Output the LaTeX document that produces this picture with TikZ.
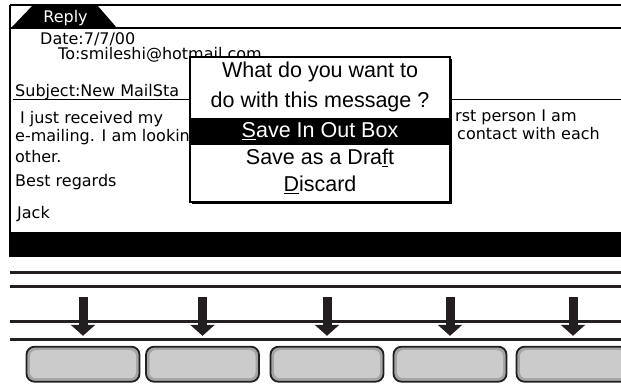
\documentclass[tikz,border=0pt]{standalone}
\usepackage{fontspec}
\setmainfont{DejaVu Sans}
\newfontfamily\dialogfont{Liberation Sans}
\usetikzlibrary{arrows.meta,shadows}
\definecolor{inkgray}{HTML}{231F20}
\definecolor{keyface}{HTML}{CBCBCB}
\definecolor{keyrim}{HTML}{A4A4A4}
\begin{document}
\begin{tikzpicture}
[x=1pt,y=-1pt,
  screentext/.style={anchor=base west,inner sep=0pt,font=\fontsize{16}{18}\selectfont},
  dialogtext/.style={anchor=base,inner sep=0pt,font=\dialogfont\fontsize{21.5}{24}\selectfont},
  dialogdecorate/.style={shape=rectangle,draw,line width=1.4pt,fill=white,minimum width=260pt,minimum height=145pt,
    drop shadow={shadow xshift=1.6pt,shadow yshift=-1.6pt,fill=black,opacity=1}},
  rowdecorate/.style={shape=rectangle,fill=black,text=white,minimum width=258pt,minimum height=27pt,inner sep=0pt,
    font=\dialogfont\fontsize{21.5}{24}\selectfont},
  barline/.style={line width=3.3pt,inkgray},
  keydecorate/.style={shape=rectangle,rounded corners=8pt,minimum width=113pt,minimum height=35pt,
    draw=inkgray,line width=1.8pt,fill=keyrim},
  keyfacedecorate/.style={shape=rectangle,rounded corners=6pt,minimum width=106pt,minimum height=28pt,fill=keyface},
  arrowdecorate/.style={-{Triangle[width=24pt,length=11pt]},line width=9pt,inkgray,shorten >=10pt}]
\useasboundingbox (0,0) rectangle (621,383);
\clip (0,0) rectangle (621,383);
%%% screen frame
\draw[line width=2pt] (10,5) -- (621,5);
\draw[line width=1.5pt] (10,5) -- (10,232);
\draw[line width=1.5pt] (10,28) -- (621,28);
\draw[line width=1pt] (13,99.5) -- (621,99.5);
% tab
\fill (33,5) -- (97,5) -- (117,28) -- (11,28) -- cycle;
\node (tab) at (65.5,22) [screentext,anchor=base,text=white] {Reply};
% message
\node (date) at (40,44) [screentext] {Date:7/7/00};
\node (to) at (58,59) [screentext] {To:smileshi@hotmail.com};
\node (subject) at (15,96) [screentext] {Subject:New MailSta};
\node (body1) at (20,123) [screentext] {I just received my};
\node (body2) at (15,141) [screentext] {e-mailing. I am lookin};
\node (body3) at (15,162) [screentext] {other.};
\node (body4) at (15,186) [screentext] {Best regards};
\node (sign) at (17,218) [screentext] {Jack};
\node (body1r) at (455,121) [screentext] {rst person I am};
\node (body2r) at (457,139) [screentext] {contact with each};
% black bar
\fill (9.25,232) rectangle (621,257);
%%% dialog
\node (dialog) at (320,129.5) [dialogdecorate] {};
\node (ask1) at (320,77.5) [dialogtext] {What do you want to};
\node (ask2) at (320,107.5) [dialogtext] {do with this message ?};
\node (outbox) at (320,131.5) [rowdecorate] {\underline{S}ave In Out Box};
\node (draft) at (320,164.5) [dialogtext] {Save as a Dra\underline{f}t};
\node (discard) at (320,191.5) [dialogtext] {\underline{D}iscard};
%%% keys and arrows
\foreach \y in {272.5,286.5,321.5,339.5}
  \draw[barline] (10,\y) -- (621,\y);
\foreach \x [count=\i] in {83,202.5,327,450,573} {
  \node (key\i) at (\x,364.2) [keydecorate] {};
  \node (face\i) at (key\i) [keyfacedecorate] {};
  \coordinate (drop\i) at (\x,297);
  \path (drop\i) edge[arrowdecorate] (key\i);
}
\end{tikzpicture}
\end{document}
